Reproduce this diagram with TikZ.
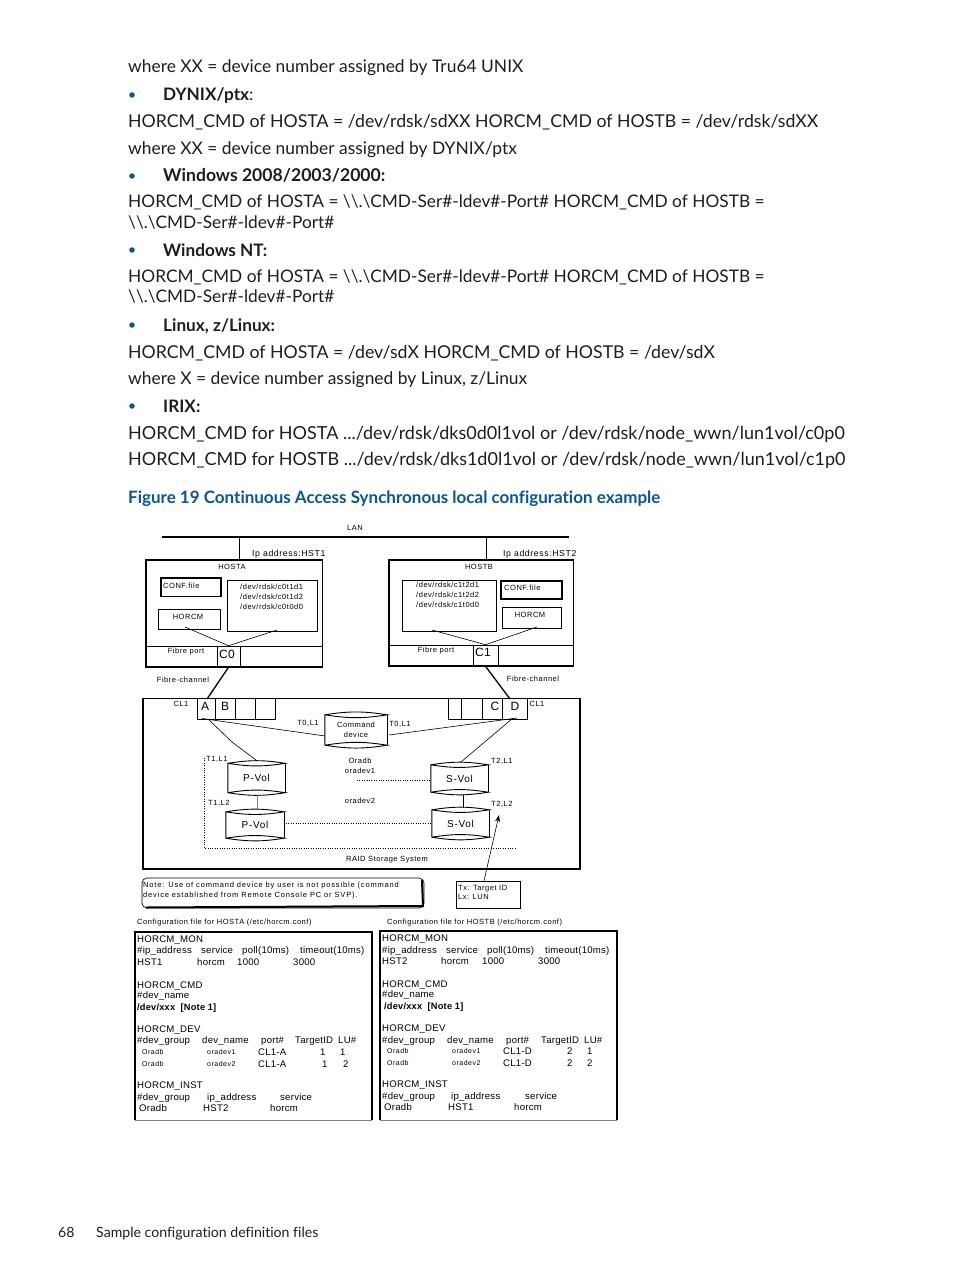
\documentclass[tikz,border=0pt]{standalone}
\usepackage{fontspec}
\setmainfont{Lato}[Ligatures={TeX,NoCommon}]
\newfontfamily\diagfont{Liberation Sans}[LetterSpace=7]
\newfontfamily\notefont{Liberation Sans}[LetterSpace=11]
\newfontfamily\cfgfont{Liberation Sans}[LetterSpace=2.5]
\usetikzlibrary{arrows.meta}
\definecolor{headblue}{RGB}{10,85,150}
\definecolor{bodyink}{RGB}{30,30,30}
\tikzset{
  bodytext/.style={anchor=base west,inner sep=0pt,text=bodyink,font=\fontsize{#1}{20}\selectfont},
  bodytext/.default=17.5,
  headtext/.style={anchor=base west,inner sep=0pt,text=bodyink,font=\fontsize{#1}{20}\selectfont\bfseries},
  headtext/.default=17.5,
  dotmark/.style={circle,fill=headblue,inner sep=0pt,minimum size=5.5pt},
  figtext/.style={anchor=base west,inner sep=0pt,text=headblue,font=\fontsize{17}{20}\selectfont\bfseries},
  foottext/.style={anchor=base west,inner sep=0pt,text=bodyink,font=\fontsize{14.1}{17}\selectfont},
  smalltext/.style={anchor=base,yshift=-2.7pt,inner sep=0pt,font=\diagfont\fontsize{7.5}{9}\selectfont},
  smallleft/.style={smalltext,anchor=base west},
  noteleft/.style={anchor=base west,yshift=-2.7pt,inner sep=0pt,font=\notefont\fontsize{7.5}{9}\selectfont},
  labeltext/.style={anchor=base west,yshift=-3.2pt,inner sep=0pt,font=\diagfont\fontsize{8.7}{11}\selectfont},
  portlabel/.style={anchor=base,yshift=-4.3pt,inner sep=0pt,font=\cfgfont\fontsize{12}{13}\selectfont},
  cfgtext/.style={anchor=base west,yshift=-3.5pt,inner sep=0pt,font=\cfgfont\fontsize{9.6}{11}\selectfont},
  cfgsmall/.style={anchor=base west,yshift=-2.7pt,inner sep=0pt,font=\diagfont\fontsize{7}{9}\selectfont},
  cfgbold/.style={anchor=base west,yshift=-3.3pt,inner sep=0pt,font=\cfgfont\fontsize{9.2}{11}\selectfont\bfseries},
  busline/.style={line width=2pt},
  heavybox/.style={line width=1.7pt,draw,inner sep=0pt},
  thinbox/.style={line width=.6pt,draw,inner sep=0pt},
  fibreline/.style={line width=1.3pt},
  wireline/.style={line width=.6pt},
  dotline/.style={line width=.6pt,dash pattern=on 1pt off 1.4pt},
  diskbody/.style={inner sep=0pt,font=\diagfont\fontsize{10}{11}\selectfont},
  cfgframe/.style={inner sep=0pt},
}
% outline of a volume, drawn round a node of that name
\newcommand{\diskoutline}[1]{%
  \draw [line width=.9pt] (#1.north west) to[bend left=9] (#1.north east)
    to[bend left=9] (#1.north west) -- (#1.south west)
    to[bend left=9] (#1.south east) to[bend left=9] (#1.south west);
  \draw [line width=.9pt] (#1.north east) -- (#1.south east);
}
% frame of a configuration file: heavy on three sides, thin below
\newcommand{\cfgoutline}[1]{%
  \draw [line width=1.7pt] (#1.south west) -- (#1.north west) -- (#1.north east) -- (#1.south east);
  \draw [line width=.7pt,gray] (#1.south west) -- (#1.south east);
}
\begin{document}
\begin{tikzpicture}[x=1pt,y=-1pt]
\useasboundingbox (0,0) rectangle (954,1271);
\fill [white] (0,0) rectangle (954,1271);
% page text
\node [bodytext=17.4] (para1) at (128,73) {where XX = device number assigned by Tru64 UNIX};
\node [dotmark] (dot1) at (132,95) {};
\node [headtext=17.2] (head1) at (163,101) {DYNIX/ptx\textmd{:}};
\node [bodytext=17.7] (para2) at (128,128) {HORCM\_CMD of HOSTA = /dev/rdsk/sdXX HORCM\_CMD of HOSTB = /dev/rdsk/sdXX};
\node [bodytext=17.4] (para3) at (128,154) {where XX = device number assigned by DYNIX/ptx};
\node [dotmark] (dot2) at (132,176) {};
\node [headtext=17.6] (head2) at (163,181) {Windows 2008/2003/2000:};
\node [bodytext=17.3] (para4) at (128,207.5) {HORCM\_CMD of HOSTA = \textbackslash\textbackslash.\textbackslash CMD-Ser\#-ldev\#-Port\# HORCM\_CMD of HOSTB =};
\node [bodytext=17.3] (para5) at (128,228.5) {\textbackslash\textbackslash.\textbackslash CMD-Ser\#-ldev\#-Port\#};
\node [dotmark] (dot3) at (132,250) {};
\node [headtext=17.2] (head3) at (163,256) {Windows NT:};
\node [bodytext=17.3] (para6) at (128,282) {HORCM\_CMD of HOSTA = \textbackslash\textbackslash.\textbackslash CMD-Ser\#-ldev\#-Port\# HORCM\_CMD of HOSTB =};
\node [bodytext=17.3] (para7) at (128,302) {\textbackslash\textbackslash.\textbackslash CMD-Ser\#-ldev\#-Port\#};
\node [dotmark] (dot4) at (132,325) {};
\node [headtext=17.2] (head4) at (163,331) {Linux, z/Linux:};
\node [bodytext=17.7] (para8) at (128,358) {HORCM\_CMD of HOSTA = /dev/sdX HORCM\_CMD of HOSTB = /dev/sdX};
\node [bodytext=17.4] (para9) at (128,384) {where X = device number assigned by Linux, z/Linux};
\node [dotmark] (dot5) at (132,406) {};
\node [headtext=17.2] (head5) at (163,412) {IRIX:};
\node [bodytext=18] (para10) at (128,439) {HORCM\_CMD for HOSTA .../dev/rdsk/dks0d0l1vol or /dev/rdsk/node\_wwn/lun1vol/c0p0};
\node [bodytext=18] (para11) at (128,465) {HORCM\_CMD for HOSTB .../dev/rdsk/dks1d0l1vol or /dev/rdsk/node\_wwn/lun1vol/c1p0};
\node [figtext] (figtitle) at (128,503) {Figure 19 Continuous Access Synchronous local configuration example};
\node [foottext] (pagenum) at (58,1237) {68};
\node [foottext] (foottitle) at (96,1237) {Sample configuration definition files};
% LAN and hosts
\node [smalltext] (lanlabel) at (355,528) {LAN};
\coordinate (lanleft) at (162,537);
\coordinate (lanright) at (569,537);
\draw [busline] (lanleft) -- (lanright);
\node [heavybox,minimum width=176.5pt,minimum height=107pt] (hosta) at (234.25,613.5) {};
\node [heavybox,minimum width=184.5pt,minimum height=106pt] (hostb) at (481.25,613) {};
\coordinate (dropa) at (239,537);
\coordinate (dropb) at (486,537);
\draw [line width=1pt] (dropa) -- (dropa |- hosta.north);
\draw [line width=1pt] (dropb) -- (dropb |- hostb.north);
\node [labeltext] (ipa) at (252,553) {Ip address:HST1};
\node [labeltext] (ipb) at (503,553) {Ip address:HST2};
\node [smalltext] (hostalabel) at (232,567) {HOSTA};
\node [smalltext] (hostblabel) at (479,567) {HOSTB};
\node [heavybox,minimum width=60pt,minimum height=18.5pt] (confa) at (191,587.25) {};
\node [smallleft] (confatext) at (163,586) {CONF.file};
\node [thinbox,minimum width=90.5pt,minimum height=51pt] (deva) at (272.25,605.5) {};
\node [smallleft] (deva1) at (240,587) {/dev/rdsk/c0t1d1};
\node [smallleft] (deva2) at (240,597) {/dev/rdsk/c0t1d2};
\node [smallleft] (deva3) at (240,607) {/dev/rdsk/c0t0d0};
\node [thinbox,minimum width=62pt,minimum height=20pt] (horcma) at (189,619) {};
\node [smalltext] (horcmatext) at (188,617) {HORCM};
\node [heavybox,minimum width=61pt,minimum height=18pt] (confb) at (531.5,590) {};
\node [smallleft] (confbtext) at (504,588) {CONF.file};
\node [thinbox,minimum width=94pt,minimum height=51pt] (devb) at (449,605.5) {};
\node [smallleft] (devb1) at (416,585) {/dev/rdsk/c1t2d1};
\node [smallleft] (devb2) at (416,595) {/dev/rdsk/c1t2d2};
\node [smallleft] (devb3) at (416,605) {/dev/rdsk/c1t0d0};
\node [thinbox,minimum width=59.5pt,minimum height=21pt] (horcmb) at (531.75,617.5) {};
\node [smalltext] (horcmbtext) at (530,615) {HORCM};
% fibre ports
\coordinate (sepaleft) at (146,646);
\coordinate (separight) at (322,646);
\draw [wireline] (sepaleft) -- (separight);
\coordinate (sepbleft) at (389,645);
\coordinate (sepbright) at (573,645);
\draw [wireline] (sepbleft) -- (sepbright);
\node [thinbox,minimum width=23pt,minimum height=21pt] (portc0) at (228.5,656.5) {};
\node [portlabel] (labelc0) at (227,654) {C0};
\node [thinbox,minimum width=25pt,minimum height=21pt] (portc1) at (485.5,655.5) {};
\node [portlabel] (labelc1) at (483,652) {C1};
\node [smalltext] (fibrea) at (186,651) {Fibre port};
\node [smalltext] (fibreb) at (436,650) {Fibre port};
\coordinate (horcmafoot) at (185,627);
\coordinate (devafoot) at (277,630);
\coordinate (devbfoot) at (432,630);
\coordinate (horcmbfoot) at (537,627);
\draw [wireline] (horcmafoot) -- (portc0.north) -- (devafoot);
\draw [wireline] (devbfoot) -- (portc1.north) -- (horcmbfoot);
% RAID box
\node [heavybox,minimum width=437pt,minimum height=170.5pt] (raid) at (361.5,783.75) {};
\node [smalltext] (raidlabel) at (387,859) {RAID Storage System};
\node [smalltext] (cl1a) at (181,704) {CL1};
\node [smalltext] (cl1b) at (537,704) {CL1};
\node [thinbox,minimum width=18pt,minimum height=20.5pt] (porta) at (206,709) {};
\node [thinbox,minimum width=20pt,minimum height=20.5pt] (portb) at (225,709) {};
\node [thinbox,minimum width=20pt,minimum height=20.5pt] (porte) at (245,709) {};
\node [thinbox,minimum width=20pt,minimum height=20.5pt] (portf) at (265,709) {};
\node [thinbox,minimum width=13.5pt,minimum height=20.5pt] (portg) at (454.75,709) {};
\node [thinbox,minimum width=20.5pt,minimum height=20.5pt] (porth) at (471.75,709) {};
\node [thinbox,minimum width=20pt,minimum height=20.5pt] (portc) at (492,709) {};
\node [thinbox,minimum width=25pt,minimum height=20.5pt] (portd) at (514.5,709) {};
\node [portlabel] (labela) at (205,706) {A};
\node [portlabel] (labelb) at (225,706) {B};
\node [portlabel] (labelcc) at (495,706) {C};
\node [portlabel] (labeld) at (515,706) {D};
\coordinate (fibrebtop) at (510,699);
\coordinate (fibreatop) at (207,699);
\draw [fibreline] (portc0.south) -- (fibreatop);
\draw [fibreline] (portc1.south) -- (fibrebtop);
\node [smalltext] (fca) at (183,680) {Fibre-channel};
\node [smalltext] (fcb) at (533,679) {Fibre-channel};
% volumes
\node [diskbody,minimum width=62pt,minimum height=30pt,align=center,font=\diagfont\fontsize{7.5}{10}\selectfont] (cmddev) at (356,730) {Command\\device};
\diskoutline{cmddev}
\node [diskbody,minimum width=57pt,minimum height=29pt] (pvol1) at (256.5,778) {P-Vol};
\diskoutline{pvol1}
\node [diskbody,minimum width=58pt,minimum height=26pt] (pvol2) at (255,825) {P-Vol};
\diskoutline{pvol2}
\node [diskbody,minimum width=57pt,minimum height=27pt] (svol1) at (459.5,778.5) {S-Vol};
\diskoutline{svol1}
\node [diskbody,minimum width=57pt,minimum height=27pt] (svol2) at (460.5,823.5) {S-Vol};
\diskoutline{svol2}
\node [smalltext] (t0l1a) at (308,723) {T0,L1};
\node [smalltext] (t0l1b) at (400,724) {T0,L1};
\node [smallleft] (t1l1) at (206,759) {T1,L1};
\node [smallleft] (t1l2) at (208,803) {T1,L2};
\node [smallleft] (t2l1) at (491,761) {T2,L1};
\node [smallleft] (t2l2) at (491,804) {T2,L2};
\node [smalltext] (oradb) at (360,761) {Oradb};
\node [smalltext] (oradev1) at (360,771) {oradev1};
\node [smalltext] (oradev2) at (360,801) {oradev2};
\coordinate (porta1) at (202,718.5);
\coordinate (cmdleft) at (325,736);
\coordinate (porta2) at (208,719);
\coordinate (bendp) at (232,742);
\coordinate (pvol1top) at (256,760);
\coordinate (cmdright) at (389,735);
\coordinate (portd1) at (517,718);
\coordinate (portd2) at (513,718);
\coordinate (svol1top) at (461,762);
\coordinate (stemafoot) at (257,795);
\coordinate (stemahead) at (257,809);
\coordinate (stembfoot) at (463,795);
\coordinate (stembhead) at (463,808);
\draw [wireline] (porta1) -- (cmdleft);
\draw [wireline] (porta2) -- (bendp) -- (pvol1top);
\draw [wireline] (cmdright) -- (portd1);
\draw [wireline] (svol1top) -- (portd2);
\draw [line width=1pt,gray] (stemafoot) -- (stemahead);
\draw [line width=.8pt] (stembfoot) -- (stembhead);
\coordinate (dottop) at (204,758);
\coordinate (dotcorner) at (204,848);
\coordinate (dotright) at (515,848);
\draw [dotline] (dottop) -- (dotcorner) -- (dotright);
\coordinate (mida) at (357,780.7);
\coordinate (midb) at (286,823);
\draw [dotline] (mida) -- (svol1.west |- mida);
\draw [dotline] (midb) -- (svol2.west |- midb);
% note and target box
\node [line width=.7pt,draw,rounded corners=5pt,minimum width=282pt,minimum height=30pt,inner sep=0pt] (notebox) at (283,893) {};
\coordinate (shadea) at (422,880);
\coordinate (shadeb) at (423,906);
\coordinate (shadec) at (146,907.5);
\draw [line width=2pt] (shadea) -- (shadeb) -- (shadec);
\node [noteleft] (note1) at (143,885) {Note: Use of command device by user is not possible (command};
\node [noteleft] (note2) at (143,895) {device established from Remote Console PC or SVP).};
\node [thinbox,minimum width=64pt,minimum height=27pt] (keybox) at (488,894.5) {};
\node [smallleft] (key1) at (458,888) {Tx: Target ID};
\node [smallleft] (key2) at (458,897) {Lx: LUN};
\coordinate (keyfoot) at (484,881);
\coordinate (keytip) at (499,815);
\draw [-{Stealth[length=7pt,width=5pt]},line width=.6pt] (keyfoot) -- (keytip);
% configuration files
\node [smallleft] (cfgatitle) at (137,922) {Configuration file for HOSTA (/etc/horcm.conf)};
\node [smallleft] (cfgbtitle) at (387,922) {Configuration file for HOSTB (/etc/horcm.conf)};
\node [cfgframe,minimum width=237pt,minimum height=188pt] (cfga) at (253.5,1026) {};
\node [cfgframe,minimum width=237pt,minimum height=189pt] (cfgb) at (498.5,1025.5) {};
\cfgoutline{cfga}
\cfgoutline{cfgb}
\foreach \xpos/\ypos/\txt [count=\n] in {
  137/939/HORCM\_MON, 137/950/\#ip\_address, 201/950/service, 242/950/poll(10ms), 300/950/timeout(10ms),
  137/962/HST1, 197/962/horcm, 237/962/1000, 293/962/3000,
  137/985/HORCM\_CMD, 137/995/\#dev\_name, 137/1029/HORCM\_DEV,
  137/1040/\#dev\_group, 202/1040/dev\_name, 261/1040/port\#, 295/1040/TargetID, 338/1040/LU\#,
  258/1052/CL1-A, 320/1052/1, 340/1052/1, 258/1064/CL1-A, 322/1064/1, 343/1064/2,
  137/1085/HORCM\_INST, 137/1097/\#dev\_group, 207/1097/ip\_address, 280/1097/service,
  139/1108/Oradb, 203/1108/HST2, 270/1108/horcm}
  \node [cfgtext] (cfga\n) at (\xpos,\ypos) {\txt};
\foreach \xpos/\ypos/\txt [count=\n] in {
  382/938/HORCM\_MON, 382/950/\#ip\_address, 446/950/service, 487/950/poll(10ms), 545/950/timeout(10ms),
  382/961/HST2, 441/961/horcm, 482/961/1000, 538/961/3000,
  382/984/HORCM\_CMD, 382/994/\#dev\_name, 382/1028/HORCM\_DEV,
  382/1040/\#dev\_group, 447/1040/dev\_name, 506/1040/port\#, 541/1040/TargetID, 584/1040/LU\#,
  503/1051/CL1-D, 567/1051/2, 587/1051/1, 503/1063/CL1-D, 567/1063/2, 587/1063/2,
  382/1084/HORCM\_INST, 382/1096/\#dev\_group, 451/1096/ip\_address, 525/1096/service,
  384/1107/Oradb, 448/1107/HST1, 514/1107/horcm}
  \node [cfgtext] (cfgb\n) at (\xpos,\ypos) {\txt};
\foreach \xpos/\ypos/\txt [count=\n] in {
  142/1052/Oradb, 207/1052/oradev1, 142/1064/Oradb, 207/1064/oradev2,
  387/1051/Oradb, 452/1051/oradev1, 387/1063/Oradb, 452/1063/oradev2}
  \node [cfgsmall] (cfgs\n) at (\xpos,\ypos) {\txt};
\node [cfgbold] (notea) at (137,1007) {/dev/xxx\ \ [Note 1]};
\node [cfgbold] (noteb) at (384,1006) {/dev/xxx\ \ [Note 1]};
\end{tikzpicture}
\end{document}
